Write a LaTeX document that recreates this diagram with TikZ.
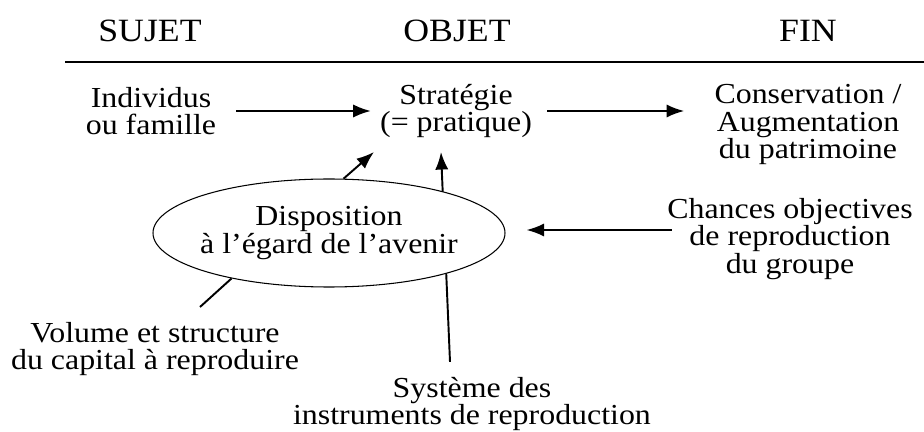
\documentclass[tikz,border=0pt]{standalone}
\usepackage{fontspec}
\setmainfont{Liberation Serif}[FakeStretch=1.1]
\usepackage{tikz}
\usetikzlibrary{arrows.meta, positioning, calc, shapes.geometric}

\begin{document}
\begin{tikzpicture}[
    head/.style={font=\fontsize{18.5}{19}\selectfont},
    txt/.style={align=center, inner sep=0pt, font=\fontsize{16.5}{15.5}\selectfont},
    arr/.style={line width=1.1pt, -{Latex[length=10pt,width=7.5pt]}}
]
    \useasboundingbox (0,0) rectangle (18.48,-8.64);
    % column heads
    \node[head] (sujet) at (3.0,-0.62) {SUJET};
    \node[head] (objet) at (9.14,-0.62) {OBJET};
    \node[head] (fin) at (16.16,-0.62) {FIN};
    \draw[line width=1pt] (1.3,-1.24) -- (18.48,-1.24);

    \node[txt] (indiv) at (3.02,-2.22) {Individus\\ou famille};
    \node[txt] (strat) at (9.12,-2.22) {Stratégie\\(= pratique)};
    \node[txt] (conserv) at (16.16,-2.49) {Conservation /\\Augmentation\\du patrimoine};
    \node[txt] (chances) at (15.8,-4.78) {Chances objectives\\de reproduction\\du groupe};
    \node[txt] (volume) at (3.1,-6.98) {Volume et structure\\du capital à reproduire};
    \node[txt] (systeme) at (9.44,-8.08) {Système des\\instruments de reproduction};

    \coordinate (tipA) at (7.48,-3.04);
    \coordinate (tipB) at (8.82,-3.04);
    \coordinate (volTop) at (4.0,-6.14);

    % behind the ellipse
    \draw[arr] ($(systeme.north)+(-0.44,0.3)$) -- (tipB);

    \node[txt, ellipse, draw, line width=0.6pt, fill=white, inner xsep=-0.15cm, minimum width=7.04cm, minimum height=2.16cm] (dispo) at (6.58,-4.66) {Disposition\\à l'égard de l'avenir};

    \draw[arr, shorten <=0.4cm, shorten >=0.18cm] (indiv.east) -- (strat.west);
    \draw[arr, shorten <=0.3cm, shorten >=0.6cm] (strat.east) -- (conserv.west |- strat.east);
    \draw[arr, shorten <=-0.1cm, shorten >=0.42cm] ([yshift=0.18cm]chances.west) -- ([yshift=0.18cm]chances.west -| dispo.east);
    \draw[arr] (dispo.75) -- (tipA);
    \draw[line width=1.1pt] (volTop) -- (dispo.205);
\end{tikzpicture}
\end{document}
